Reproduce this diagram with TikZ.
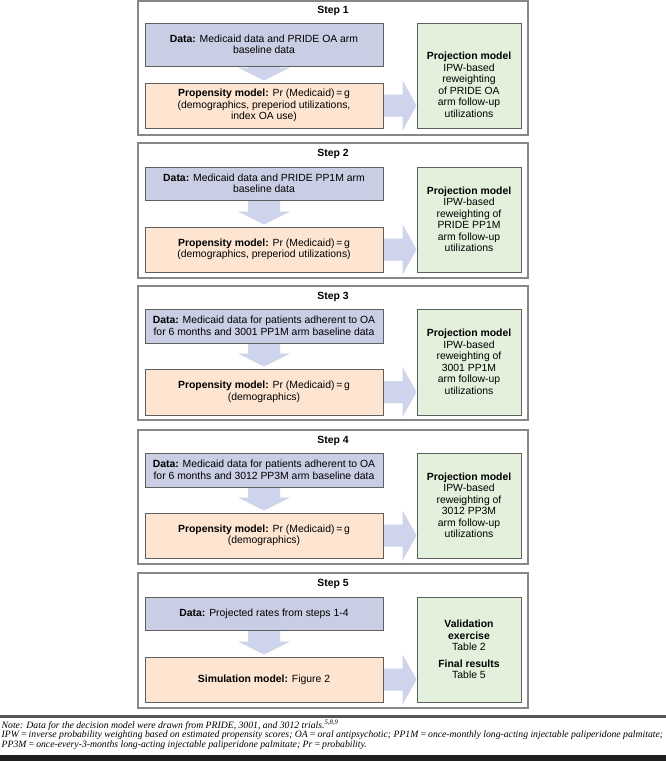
\documentclass[tikz,border=0pt]{standalone}
\usepackage{fontspec}
\setmainfont{Liberation Sans}
\newfontfamily\notefont{Liberation Serif}
\usetikzlibrary{calc,backgrounds}
\definecolor{databg}{RGB}{201,206,228}
\definecolor{propbg}{RGB}{253,229,210}
\definecolor{greenbg}{RGB}{227,240,219}
\definecolor{arrowc}{RGB}{206,212,236}
\definecolor{framec}{RGB}{135,135,135}
\definecolor{boxc}{RGB}{95,95,95}
\definecolor{rulec}{RGB}{85,85,85}
\tikzset{
  txt/.style={align=center, font=\fontsize{10.4}{11.5}\selectfont, inner sep=0pt},
  base/.style={txt, draw=boxc, line width=0.8pt},
  databox/.style={base, fill=databg, minimum width=238pt},
  propbox/.style={base, fill=propbg, minimum width=238pt},
  greenbox/.style={base, fill=greenbg, minimum width=104pt},
  framebox/.style={draw=framec, line width=1.3pt, minimum width=390pt, inner sep=0pt},
  steptitle/.style={font=\fontsize{10.4}{11.5}\selectfont\bfseries, inner sep=0pt},
  notetext/.style={font=\notefont\itshape\fontsize{9.7}{10}\selectfont, inner sep=0pt, anchor=west},
}
\newcommand\downarr[2]{%
  \fill[arrowc] ($(#1.south)+(-16,0)$) -- ($(#1.south)+(16,0)$) -- ($(#2.north)+(16,-15)$)
    -- ($(#2.north)+(26,-15)$) -- ($(#2.north)+(0,-2)$) -- ($(#2.north)+(-26,-15)$)
    -- ($(#2.north)+(-16,-15)$) -- cycle;}
\newcommand\rightarr[2]{%
  \fill[arrowc] ($(#1.east)+(0,-11)$) -- ($(#2.west |- #1.east)+(-14,-11)$)
    -- ($(#2.west |- #1.east)+(-14,-25)$) -- (#2.west |- #1.east)
    -- ($(#2.west |- #1.east)+(-14,25)$) -- ($(#2.west |- #1.east)+(-14,11)$)
    -- ($(#1.east)+(0,11)$) -- cycle;}
\begin{document}
\begin{tikzpicture}[x=1pt,y=-1pt]
\useasboundingbox (0,0) rectangle (666,761);

% Step 1
\node[framebox, minimum height=134pt] (f1) at (333,68) {};
\node[steptitle] (t1) at (333,11) {Step 1};
\node[databox, minimum height=43pt] (d1) at (264,44.5) {\textbf{Data:} Medicaid data and PRIDE OA arm\\baseline data};
\node[propbox, minimum height=45pt] (p1) at (264,105.5) {\textbf{Propensity model:} Pr (Medicaid)\,=\,g\\(demographics, preperiod utilizations,\\index OA use)};
\node[greenbox, minimum height=105pt] (g1) at (469,75.5) {};
\node[txt] (g1t) at (469,85) {\textbf{Projection model}\\IPW-based\\reweighting\\of PRIDE OA\\arm follow-up\\utilizations};

% Step 2
\node[framebox, minimum height=135pt] (f2) at (333,210.5) {};
\node[steptitle] (t2) at (333,154) {Step 2};
\node[databox, minimum height=33pt] (d2) at (264,183.5) {\textbf{Data:} Medicaid data and PRIDE PP1M arm\\baseline data};
\node[propbox, minimum height=45pt] (p2) at (264,249.5) {\textbf{Propensity model:} Pr (Medicaid)\,=\,g\\(demographics, preperiod utilizations)};
\node[greenbox, minimum height=105pt] (g2) at (469,219.5) {\textbf{Projection model}\\IPW-based\\reweighting of\\PRIDE PP1M\\arm follow-up\\utilizations};

% Step 3
\node[framebox, minimum height=134pt] (f3) at (333,353) {};
\node[steptitle] (t3) at (333,297) {Step 3};
\node[databox, minimum height=34pt] (d3) at (264,326) {\textbf{Data:} Medicaid data for patients adherent to OA\\for 6 months and 3001 PP1M arm baseline data};
\node[propbox, minimum height=46pt] (p3) at (264,392) {\textbf{Propensity model:} Pr (Medicaid)\,=\,g\\(demographics)};
\node[greenbox, minimum height=106pt] (g3) at (469,362) {\textbf{Projection model}\\IPW-based\\reweighting of\\3001 PP1M\\arm follow-up\\utilizations};

% Step 4
\node[framebox, minimum height=134pt] (f4) at (333,497) {};
\node[steptitle] (t4) at (333,441) {Step 4};
\node[databox, minimum height=34pt] (d4) at (264,470) {\textbf{Data:} Medicaid data for patients adherent to OA\\for 6 months and 3012 PP3M arm baseline data};
\node[propbox, minimum height=45pt] (p4) at (264,535.5) {\textbf{Propensity model:} Pr (Medicaid)\,=\,g\\(demographics)};
\node[greenbox, minimum height=105pt] (g4) at (469,505.5) {\textbf{Projection model}\\IPW-based\\reweighting of\\3012 PP3M\\arm follow-up\\utilizations};

% Step 5
\node[framebox, minimum height=135pt] (f5) at (333,640.5) {};
\node[steptitle] (t5) at (333,584) {Step 5};
\node[databox, minimum height=33pt] (d5) at (264,613.5) {\textbf{Data:} Projected rates from steps 1-4};
\node[propbox, minimum height=45pt] (p5) at (264,679.5) {\textbf{Simulation model:} Figure 2};
\node[greenbox, minimum height=105pt] (g5) at (469,649.5) {\textbf{Validation}\\\textbf{exercise}\\Table 2\\[5pt]\textbf{Final results}\\Table 5};

\begin{scope}[on background layer]
\fill[white] (0,0) rectangle (666,761);
\downarr{d1}{p1}\rightarr{p1}{g1}
\downarr{d2}{p2}\rightarr{p2}{g2}
\downarr{d3}{p3}\rightarr{p3}{g3}
\downarr{d4}{p4}\rightarr{p4}{g4}
\downarr{d5}{p5}\rightarr{p5}{g5}
\end{scope}

% Note
\coordinate (r1) at (0,716.5);
\coordinate (r2) at (666,716.5);
\draw[rulec, line width=3pt] (r1) -- (r2);
\node[notetext] (n1) at (1.5,725) {Note: Data for the decision model were drawn from PRIDE, 3001, and 3012 trials.\textsuperscript{5,8,9}};
\node[notetext] (n2) at (1.5,735) {IPW\,=\,inverse probability weighting based on estimated propensity scores; OA\,=\,oral antipsychotic; PP1M\,=\,once-monthly long-acting injectable paliperidone palmitate;};
\node[notetext] (n3) at (1.5,745) {PP3M\,=\,once-every-3-months long-acting injectable paliperidone palmitate; Pr\,=\,probability.};
\fill[black!88] (0,755) rectangle (666,761);
\end{tikzpicture}
\end{document}
